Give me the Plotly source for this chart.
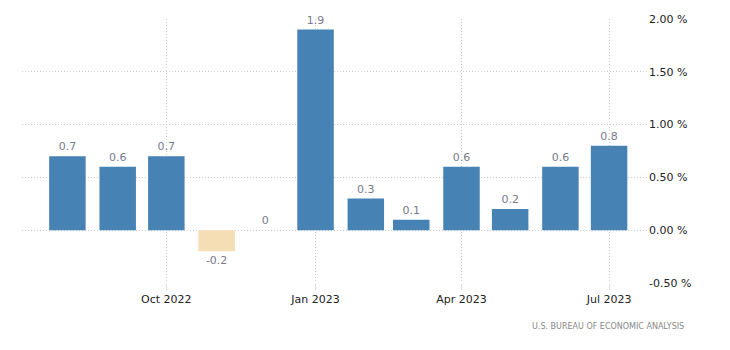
import plotly.graph_objects as go

months = ["2022-08-01", "2022-09-01", "2022-10-01", "2022-11-01", "2022-12-01", "2023-01-01",
          "2023-02-01", "2023-03-01", "2023-04-01", "2023-05-01", "2023-06-01", "2023-07-01"]
values = [0.7, 0.6, 0.7, -0.2, 0, 1.9, 0.3, 0.1, 0.6, 0.2, 0.6, 0.8]
tick_dates = ["2022-10-01", "2023-01-01", "2023-04-01", "2023-07-01"]
tick_labels = ["Oct 2022", "Jan 2023", "Apr 2023", "Jul 2023"]
y_ticks = [-0.5, 0, 0.5, 1.0, 1.5, 2.0]
y_tick_labels = ["-0.50 %", "0.00 %", "0.50 %", "1.00 %", "1.50 %", "2.00 %"]
source = "U.S. BUREAU OF ECONOMIC ANALYSIS"

colors = ["#4682B4" if v >= 0 else "#F5DEB3" for v in values]
labels = [f"{v:g}" for v in values]
day_ms = 86400000

fig = go.Figure(go.Bar(
    x=months, y=values, marker=dict(color=colors, line=dict(width=0)),
    width=[22.5 * day_ms] * len(values),
    text=labels, textposition="outside", cliponaxis=False,
    textfont=dict(family="DejaVu Sans", size=11, color="#7a7a8a"),
))

grid = dict(showgrid=True, gridcolor="#cccccc", griddash="1px,2px", gridwidth=1, zeroline=False)
fig.update_xaxes(type="date", range=["2022-07-04", "2023-07-25"], tickvals=tick_dates, ticktext=tick_labels,
                 tickfont=dict(family="DejaVu Sans", size=11, color="#222"), showline=False,
                 ticks="outside", ticklen=6, tickcolor="#dddddd", **grid)
fig.update_yaxes(side="right", range=[-0.5, 2.0], tickvals=y_ticks, ticktext=y_tick_labels,
                 tickfont=dict(family="DejaVu Sans", size=11, color="#222"), showline=False, **grid)
fig.add_annotation(text=source, xref="paper", yref="paper", x=1.06, y=-0.14, xanchor="right", yanchor="top",
                   showarrow=False, font=dict(family="DejaVu Sans", size=8, color="#888"))
fig.update_layout(width=730, height=350, margin=dict(l=22, r=82, t=19, b=67),
                  plot_bgcolor="white", paper_bgcolor="white", showlegend=False)
fig.write_html("out.html")
